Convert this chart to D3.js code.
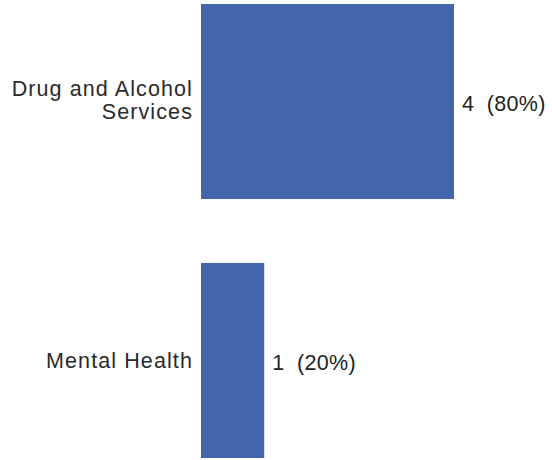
<!DOCTYPE html>
<html><head><meta charset="utf-8">
<script src="https://cdn.jsdelivr.net/npm/d3@7"></script>
<style>
html,body{margin:0;padding:0;background:#fff;}
svg{display:block;}
text{font-family:"Liberation Sans",Arial,sans-serif;}
</style></head>
<body>
<script>
const categories = ["Drug and Alcohol Services", "Mental Health"];
const labelLines = [["Drug and Alcohol", "Services"], ["Mental Health"]];
const counts = [4, 1];
const percents = [80, 20];

const W = 552, H = 460;
const svg = d3.select("body").append("svg").attr("width", W).attr("height", H);

const x = d3.scaleLinear().domain([0, 4]).range([201, 454]);
const y = d3.scaleBand().domain(categories).range([4, 458]).paddingInner(0.247).paddingOuter(0);

const data = categories.map((c, i) => ({c, v: counts[i], p: percents[i], lines: labelLines[i]}));

svg.selectAll("rect.bar").data(data).join("rect")
  .attr("class", "bar")
  .attr("x", x(0))
  .attr("y", d => y(d.c))
  .attr("width", d => x(d.v) - x(0))
  .attr("height", y.bandwidth())
  .attr("fill", "#4365aa");

// category labels
const lh = 23;
data.forEach(d => {
  const cy = y(d.c) + y.bandwidth() / 2;
  const n = d.lines.length;
  const t = svg.append("text")
    .attr("text-anchor", "end")
    .attr("font-size", 21.5)
    .attr("letter-spacing", 1.1)
    .attr("fill", "#2a2a2a");
  d.lines.forEach((ln, j) => {
    t.append("tspan")
      .attr("x", x(0) - 8)
      .attr("y", cy + 8 + (j - (n - 1) / 2) * lh - (n > 1 ? 2 : 0))
      .text(ln);
  });
});

// value labels
svg.selectAll("text.val").data(data).join("text")
  .attr("class", "val")
  .attr("x", d => x(d.v) + 8)
  .attr("y", d => y(d.c) + y.bandwidth() / 2 + 9.5)
  .attr("font-size", 21.5)
  .attr("letter-spacing", 0.3)
  .attr("fill", "#222")
  .attr("xml:space", "preserve")
  .style("white-space", "pre")
  .text(d => d.v + "  (" + d.p + "%)");
</script>
</body></html>
